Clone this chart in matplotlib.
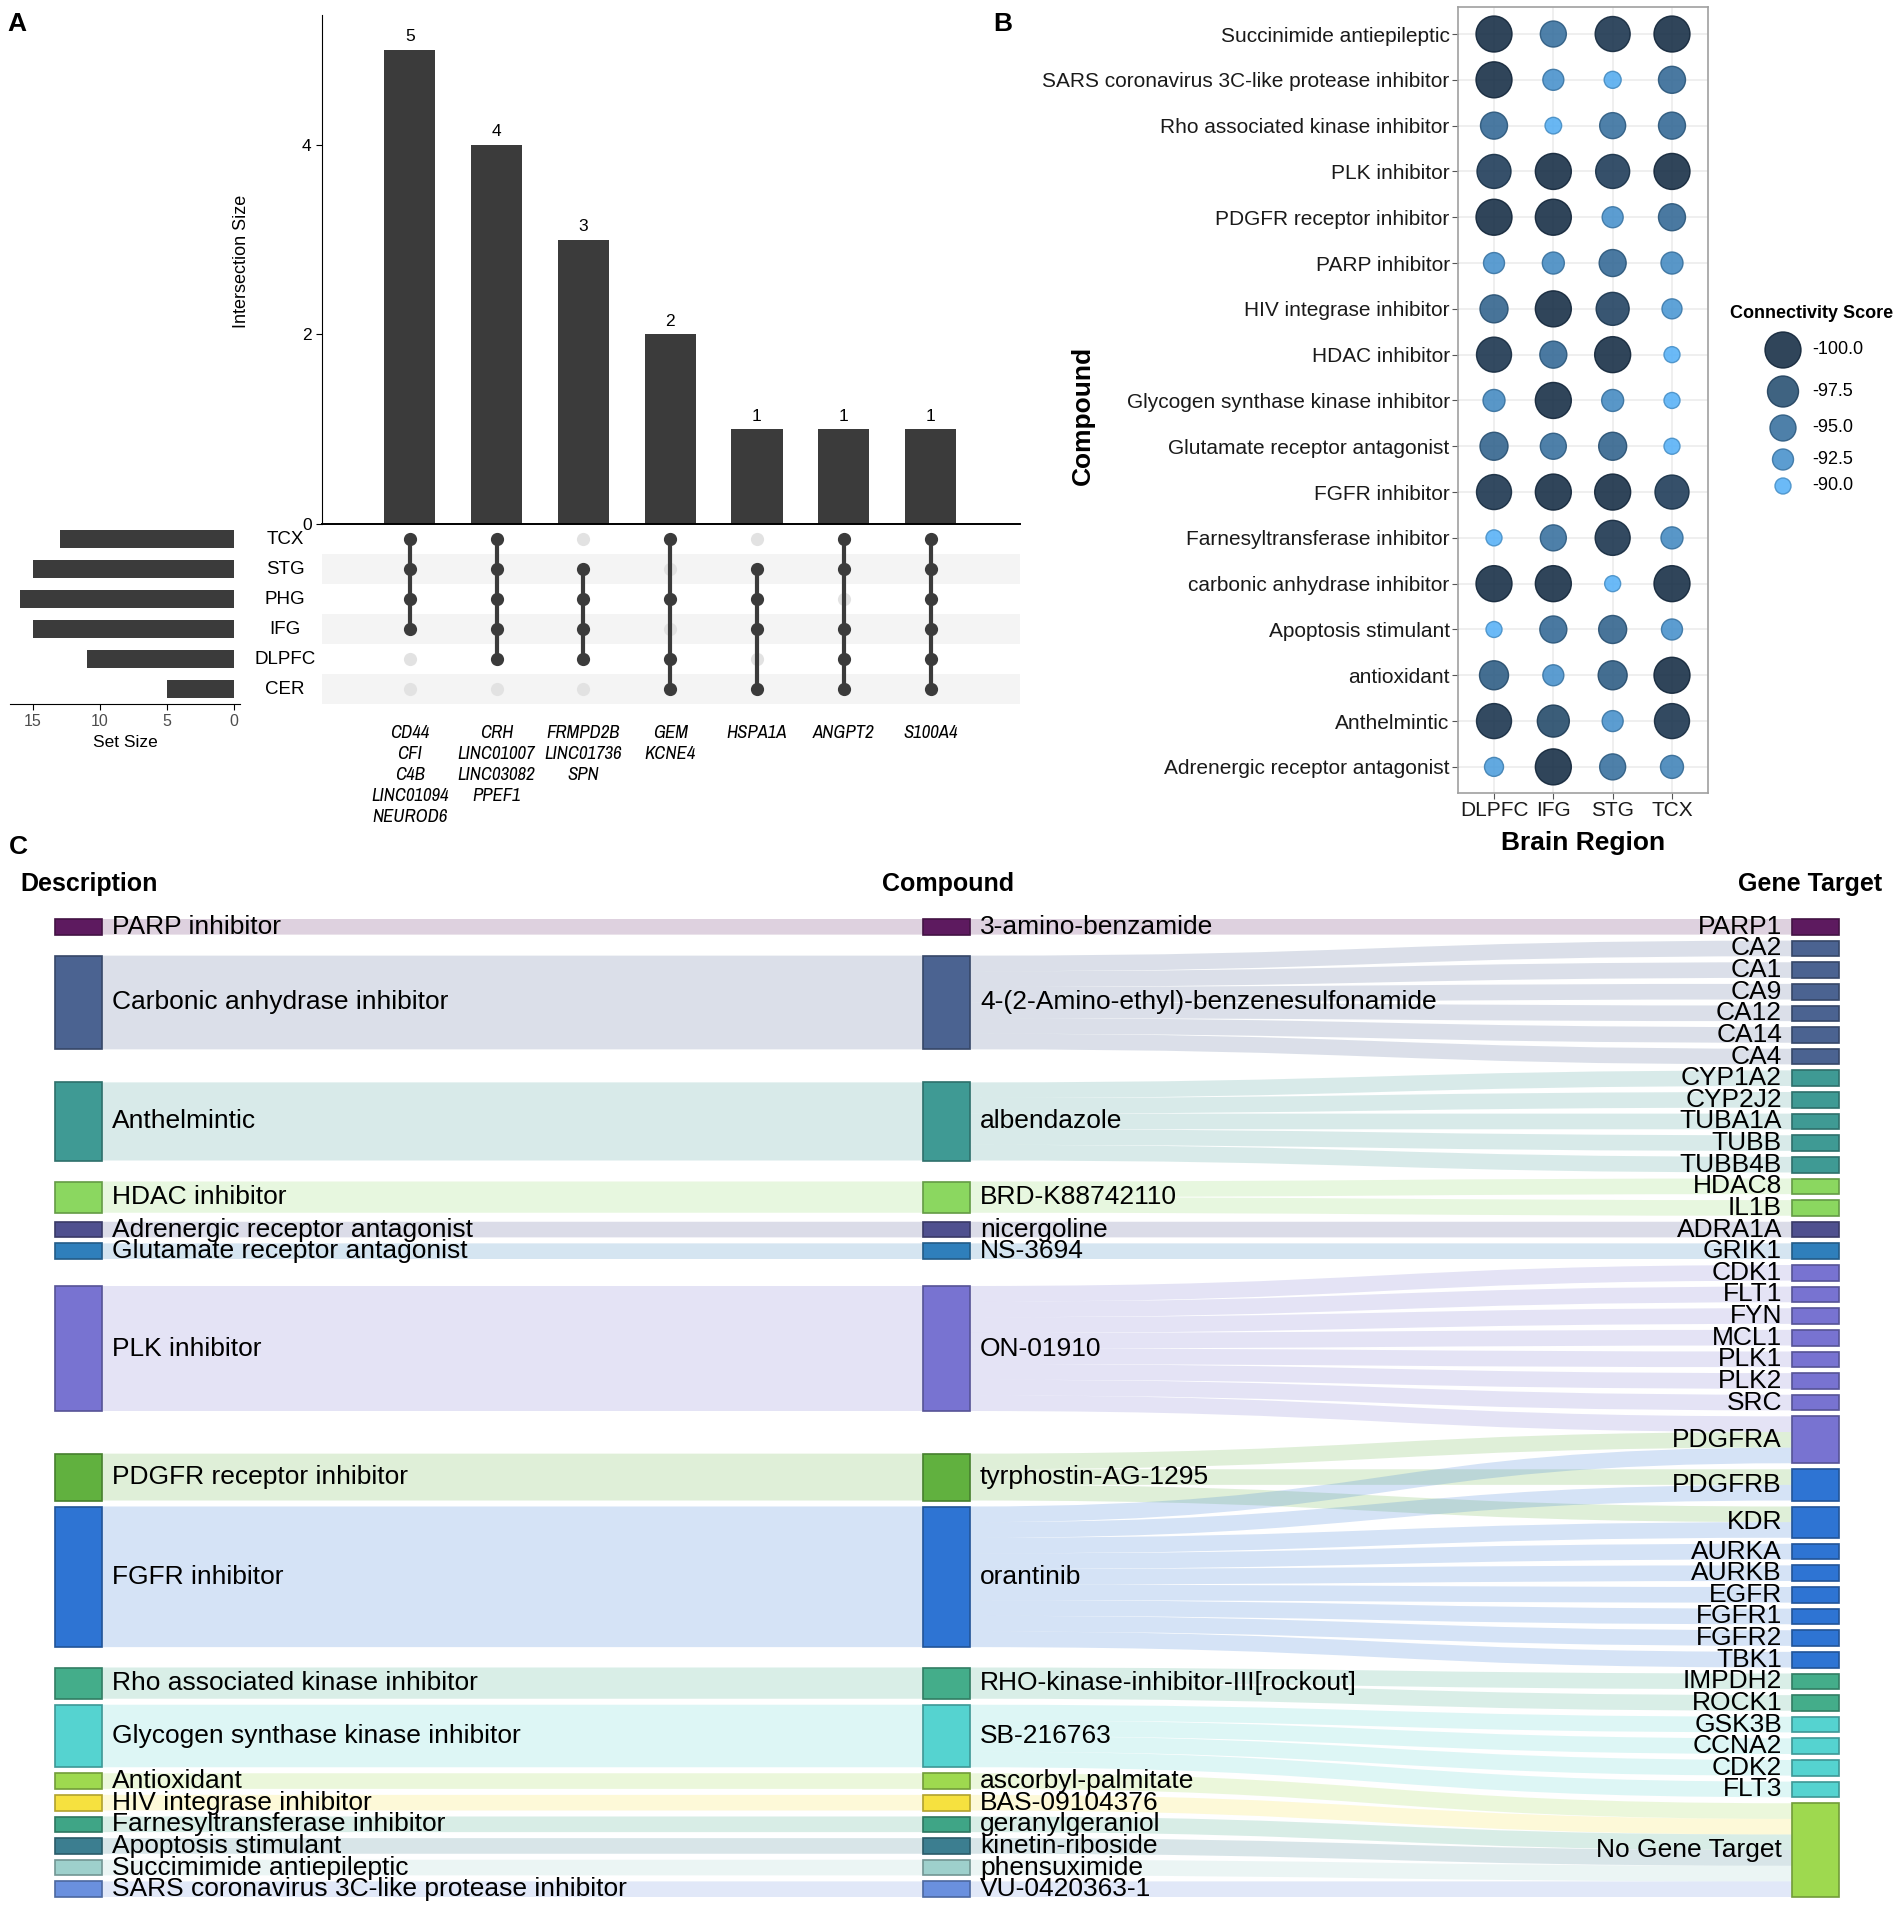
import numpy as np
import matplotlib
matplotlib.use("Agg")
import matplotlib.pyplot as plt
import matplotlib.transforms as mtransforms
from matplotlib import font_manager
from matplotlib.path import Path
from matplotlib.patches import PathPatch, Rectangle
from matplotlib.colors import LinearSegmentedColormap, Normalize, to_rgb

plt.rcParams['font.family'] = ['Liberation Sans', 'DejaVu Sans']

# pick a condensed face for the gene lists of panel A, if one is installed
NARROW, NARROW_STRETCH, NARROW_SIZE = 'Liberation Sans', 'normal', 11.5
for f in font_manager.fontManager.ttflist:
    if 'Narrow' in f.name or 'Condensed' in f.name:
        NARROW, NARROW_STRETCH, NARROW_SIZE = f.name, 'normal', 13.5
        break
else:
    for f in font_manager.fontManager.ttflist:
        if str(f.stretch) in ('condensed', 'semi-condensed'):
            NARROW, NARROW_STRETCH, NARROW_SIZE = f.name, str(f.stretch), 13.5
            break

# ---------------- panel A : upset data
sets = ['TCX', 'STG', 'PHG', 'IFG', 'DLPFC', 'CER']
set_sizes = [13, 15, 16, 15, 11, 5]
inter_sizes = [5, 4, 3, 2, 1, 1, 1]
inter_members = [
    ['TCX', 'STG', 'PHG', 'IFG'],
    ['TCX', 'STG', 'PHG', 'IFG', 'DLPFC'],
    ['STG', 'PHG', 'IFG', 'DLPFC'],
    ['TCX', 'PHG', 'DLPFC', 'CER'],
    ['STG', 'PHG', 'IFG', 'CER'],
    ['TCX', 'STG', 'IFG', 'DLPFC', 'CER'],
    ['TCX', 'STG', 'PHG', 'IFG', 'DLPFC', 'CER'],
]
inter_genes = [
    ['CD44', 'CFI', 'C4B', 'LINC01094', 'NEUROD6'],
    ['CRH', 'LINC01007', 'LINC03082', 'PPEF1'],
    ['FRMPD2B', 'LINC01736', 'SPN'],
    ['GEM', 'KCNE4'],
    ['HSPA1A'],
    ['ANGPT2'],
    ['S100A4'],
]

# ---------------- panel B : connectivity scores
regions = ['DLPFC', 'IFG', 'STG', 'TCX']
moa = ['Succinimide antiepileptic', 'SARS coronavirus 3C-like protease inhibitor',
       'Rho associated kinase inhibitor', 'PLK inhibitor', 'PDGFR receptor inhibitor',
       'PARP inhibitor', 'HIV integrase inhibitor', 'HDAC inhibitor',
       'Glycogen synthase kinase inhibitor', 'Glutamate receptor antagonist',
       'FGFR inhibitor', 'Farnesyltransferase inhibitor', 'carbonic anhydrase inhibitor',
       'Apoptosis stimulant', 'antioxidant', 'Anthelmintic', 'Adrenergic receptor antagonist']
score_dlpfc = [-100, -100, -95.5, -99, -100, -92.5, -96, -99.5, -93, -96, -99.5, -90, -100, -90, -96.5, -99.5, -91.5]
score_ifg = [-95, -92.5, -90.3, -100, -100, -93, -100, -95.5, -100, -95, -100, -95, -100, -95.5, -92.5, -98, -100]
score_stg = [-99.5, -90.5, -95, -99, -92.5, -95.5, -98.5, -100, -93, -96, -100, -99.5, -90, -96, -96.5, -92.5, -95]
score_tcx = [-100, -95.5, -95.5, -100, -95.5, -93, -92, -90, -90, -90, -99, -93, -100, -92.5, -100, -99.5, -93.5]
legend_breaks = [-100.0, -97.5, -95.0, -92.5, -90.0]

# ---------------- panel C : sankey
descriptions = ['PARP inhibitor', 'Carbonic anhydrase inhibitor', 'Anthelmintic', 'HDAC inhibitor',
                'Adrenergic receptor antagonist', 'Glutamate receptor antagonist', 'PLK inhibitor',
                'PDGFR receptor inhibitor', 'FGFR inhibitor', 'Rho associated kinase inhibitor',
                'Glycogen synthase kinase inhibitor', 'Antioxidant', 'HIV integrase inhibitor',
                'Farnesyltransferase inhibitor', 'Apoptosis stimulant', 'Succimimide antiepileptic',
                'SARS coronavirus 3C-like protease inhibitor']
compounds = ['3-amino-benzamide', '4-(2-Amino-ethyl)-benzenesulfonamide', 'albendazole',
             'BRD-K88742110', 'nicergoline', 'NS-3694', 'ON-01910', 'tyrphostin-AG-1295',
             'orantinib', 'RHO-kinase-inhibitor-III[rockout]', 'SB-216763', 'ascorbyl-palmitate',
             'BAS-09104376', 'geranylgeraniol', 'kinetin-riboside', 'phensuximide', 'VU-0420363-1']
compound_targets = [
    ['PARP1'],
    ['CA2', 'CA1', 'CA9', 'CA12', 'CA14', 'CA4'],
    ['CYP1A2', 'CYP2J2', 'TUBA1A', 'TUBB', 'TUBB4B'],
    ['HDAC8', 'IL1B'],
    ['ADRA1A'],
    ['GRIK1'],
    ['CDK1', 'FLT1', 'FYN', 'MCL1', 'PLK1', 'PLK2', 'SRC', 'PDGFRA'],
    ['PDGFRA', 'PDGFRB', 'KDR'],
    ['PDGFRA', 'PDGFRB', 'KDR', 'AURKA', 'AURKB', 'EGFR', 'FGFR1', 'FGFR2', 'TBK1'],
    ['IMPDH2', 'ROCK1'],
    ['GSK3B', 'CCNA2', 'CDK2', 'FLT3'],
    ['No Gene Target'],
    ['No Gene Target'],
    ['No Gene Target'],
    ['No Gene Target'],
    ['No Gene Target'],
    ['No Gene Target'],
]
class_colors = ['#5d1a5f', '#4b6391', '#3f9a94', '#8bd760', '#4f508f', '#2f7fbb', '#7873d1',
                '#61b13f', '#2e74d3', '#44ad8a', '#55d3d0', '#9ed94f', '#f6e13f', '#3fa586',
                '#3c7e90', '#9ed0cc', '#6a90de']
# genes whose node group is not the first compound that hits them
gene_group_override = {'PDGFRB': 'orantinib', 'KDR': 'orantinib'}

W, H = 1902, 1913
fig = plt.figure(figsize=(W / 100, H / 100), dpi=100)


def px_axes(x0, y0, x1, y1):
    return fig.add_axes([x0 / W, 1 - y1 / H, (x1 - x0) / W, (y1 - y0) / H])


def darker(c, f=0.72):
    r, g, b = to_rgb(c)
    return (r * f, g * f, b * f)


# ======================= A
DARK = '#3b3b3b'
XL = (-1.01, 7.03)
ax_bar = px_axes(322, 15, 1020, 524)
xs = np.arange(len(inter_sizes))
ax_bar.bar(xs, inter_sizes, width=0.59, color=DARK)
for x, v in zip(xs, inter_sizes):
    ax_bar.text(x, v + 0.06, str(v), ha='center', va='bottom', fontsize=12.5)
ax_bar.set_xlim(*XL)
ax_bar.set_ylim(0, 5.37)
ax_bar.set_yticks([0, 2, 4])
ax_bar.set_xticks([])
for s in ['top', 'right']:
    ax_bar.spines[s].set_visible(False)
ax_bar.spines['bottom'].set_linewidth(1.4)
ax_bar.spines['left'].set_linewidth(0.8)
ax_bar.tick_params(axis='y', labelsize=12.5, length=4, width=0.8)
ax_bar.set_ylabel('Intersection Size', fontsize=13)
ax_bar.yaxis.set_label_coords(-0.103, 0.515)

ax_m = px_axes(322, 524, 1020, 704)
ax_m.set_xlim(*XL)
ax_m.set_ylim(5.5, -0.5)
ax_m.axis('off')
for i in range(len(sets)):
    if i % 2 == 1:
        ax_m.axhspan(i - 0.5, i + 0.5, color='#f4f4f4', lw=0, zorder=0)
for j, members in enumerate(inter_members):
    rows = [sets.index(m) for m in members]
    ax_m.scatter([j] * len(sets), range(len(sets)), s=90, color='#e2e2e2', lw=0, zorder=2)
    ax_m.plot([j, j], [min(rows), max(rows)], color=DARK, lw=3, zorder=3)
    ax_m.scatter([j] * len(rows), rows, s=90, color=DARK, lw=0, zorder=4)
    ax_m.text(j, 6.2, '\n'.join(inter_genes[j]), ha='center', va='top', fontsize=NARROW_SIZE,
              style='italic', family=NARROW, stretch=NARROW_STRETCH,
              linespacing=1.38 if NARROW_SIZE > 12 else 1.45, clip_on=False)
tr = mtransforms.blended_transform_factory(fig.transFigure, ax_m.transData)
for i, name in enumerate(sets):
    ax_m.text(285 / W, i, name, transform=tr, ha='center', va='center', fontsize=13.5)

ax_s = px_axes(10, 524, 240, 704)
ax_s.barh(range(len(sets)), set_sizes, height=0.57, color=DARK)
ax_s.set_xlim(16.72, -0.45)
ax_s.set_ylim(5.5, -0.5)
for s in ['top', 'right', 'left']:
    ax_s.spines[s].set_visible(False)
ax_s.set_yticks([])
ax_s.set_xticks([15, 10, 5, 0])
ax_s.tick_params(axis='x', labelsize=11.5, labelcolor='#4d4d4d', length=4)
ax_s.set_xlabel('Set Size', fontsize=12.5, labelpad=4)

fig.text(17 / W, 1 - 24 / H, 'A', fontsize=19, fontweight='bold', ha='center', va='center')

# ======================= B
cmap = LinearSegmentedColormap.from_list('cs', ['#132B43', '#56B1F7'])
norm = Normalize(-100, -90)


def dot_size(v):
    d = 16 + (-90 - np.asarray(v, dtype=float)) / 10 * 20
    return (d * 0.72) ** 2


ax_b = px_axes(1458, 7, 1708, 793)
score_cols = [score_dlpfc, score_ifg, score_stg, score_tcx]
for k, col in enumerate(score_cols):
    yy = np.arange(1, len(moa) + 1)
    cols = cmap(norm(col))
    ax_b.scatter([k + 1] * len(moa), yy, s=dot_size(col), c=cols, alpha=0.88,
                 edgecolors=[darker(c[:3], 0.8) for c in cols], linewidths=1, zorder=3)
ax_b.set_xlim(0.393, 4.607)
ax_b.set_ylim(17.57, 0.41)
ax_b.set_xticks(range(1, 5))
ax_b.set_xticklabels(regions)
ax_b.set_yticks(range(1, len(moa) + 1))
ax_b.set_yticklabels(moa)
ax_b.grid(color='#ebebeb', lw=1.1)
ax_b.set_axisbelow(True)
for s in ax_b.spines.values():
    s.set_color('#a0a0a0')
    s.set_linewidth(1.2)
ax_b.tick_params(labelsize=15, length=4, color='#555555', labelcolor='#1a1a1a', pad=2)
fig.text(1083 / W, 1 - 415 / H, 'Compound', rotation=90, fontsize=19, fontweight='bold',
         ha='center', va='center')
fig.text(1583 / W, 1 - 843 / H, 'Brain Region', fontsize=19, fontweight='bold',
         ha='center', va='center')
fig.text(1003 / W, 1 - 24 / H, 'B', fontsize=19, fontweight='bold', ha='center', va='center')

# legend
fig.text(1730 / W, 1 - 313 / H, 'Connectivity Score', fontsize=13, fontweight='bold',
         ha='left', va='center')
ax_leg = px_axes(1740, 320, 1900, 520)
ax_leg.set_xlim(1740, 1900)
ax_leg.set_ylim(520, 320)
ax_leg.axis('off')
diam = 16 + (-90 - np.array(legend_breaks)) / 10 * 20
ly = [350.0]
for a, b in zip(diam[:-1], diam[1:]):
    ly.append(ly[-1] + (a + b) / 2 + 8)
lcols = cmap(norm(legend_breaks))
ax_leg.scatter([1783] * len(legend_breaks), ly, s=dot_size(legend_breaks), c=lcols, alpha=0.88,
               edgecolors=[darker(c[:3], 0.8) for c in lcols], linewidths=1)
for v, y in zip(legend_breaks, ly):
    ax_leg.text(1812, y, f'{v:.1f}', fontsize=13, va='center', ha='left')

# ======================= C
ax_c = px_axes(0, 840, W, H)
ax_c.set_xlim(0, W)
ax_c.set_ylim(H, 840)
ax_c.axis('off')

genes = []
for t in compound_targets:
    for g in t:
        if g not in genes:
            genes.append(g)
gene_val = [sum(t.count(g) for t in compound_targets) for g in genes]
gene_color = {}
for t, c in zip(compound_targets, class_colors):
    for g in t:
        gene_color.setdefault(g, c)
for g, comp in gene_group_override.items():
    gene_color[g] = class_colors[compounds.index(comp)]

TOP, BOT, PAD = 919, 1897, 6
ky = (BOT - TOP - PAD * (len(genes) - 1)) / sum(gene_val)
gene_y = {}
y = TOP
for g, v in zip(genes, gene_val):
    gene_y[g] = y
    y += v * ky + PAD

# slots on gene nodes: incoming links ordered by compound order
gene_slot = {g: gene_y[g] for g in genes}
link_tgt = []
for ci, t in enumerate(compound_targets):
    row = {}
    for g in t:
        row[g] = gene_slot[g]
        gene_slot[g] += ky
    link_tgt.append(row)

# compound position = barycentre of its links, then collision resolution
comp_h = [len(t) * ky for t in compound_targets]
comp_y = [np.mean([link_tgt[ci][g] + ky / 2 for g in t]) - comp_h[ci] / 2
          for ci, t in enumerate(compound_targets)]
yy = TOP
for i in range(len(comp_y)):
    if comp_y[i] < yy:
        comp_y[i] = yy
    yy = comp_y[i] + comp_h[i] + PAD
if yy - PAD > BOT:
    comp_y[-1] = BOT - comp_h[-1]
    for i in range(len(comp_y) - 2, -1, -1):
        if comp_y[i] + comp_h[i] + PAD > comp_y[i + 1]:
            comp_y[i] = comp_y[i + 1] - PAD - comp_h[i]

NW = 47
XD, XC, XG = 55, 923, 1792


def band(x0, y0, x1, y1, h, color):
    xm = (x0 + x1) / 2
    verts = [(x0, y0), (xm, y0), (xm, y1), (x1, y1), (x1, y1 + h),
             (xm, y1 + h), (xm, y0 + h), (x0, y0 + h), (x0, y0)]
    codes = [Path.MOVETO, Path.CURVE4, Path.CURVE4, Path.CURVE4, Path.LINETO,
             Path.CURVE4, Path.CURVE4, Path.CURVE4, Path.CLOSEPOLY]
    ax_c.add_patch(PathPatch(Path(verts, codes), facecolor=color, alpha=0.2, lw=0, zorder=1))


for ci, t in enumerate(compound_targets):
    c = class_colors[ci]
    band(XD + NW, comp_y[ci], XC, comp_y[ci], comp_h[ci], c)
    order = sorted(t, key=lambda g: genes.index(g))
    sy = comp_y[ci]
    for g in order:
        band(XC + NW, sy, XG, link_tgt[ci][g], ky, c)
        sy += ky

for ci in range(len(compounds)):
    c = class_colors[ci]
    for x in (XD, XC):
        ax_c.add_patch(Rectangle((x, comp_y[ci]), NW, comp_h[ci], facecolor=c,
                                 edgecolor=darker(c), lw=1.2, zorder=3))
    yc = comp_y[ci] + comp_h[ci] / 2
    ax_c.text(XD + NW + 10, yc, descriptions[ci], fontsize=19, va='center', ha='left', zorder=4)
    ax_c.text(XC + NW + 10, yc, compounds[ci], fontsize=19, va='center', ha='left', zorder=4)

for g, v in zip(genes, gene_val):
    c = gene_color[g]
    ax_c.add_patch(Rectangle((XG, gene_y[g]), NW, v * ky, facecolor=c,
                             edgecolor=darker(c), lw=1.2, zorder=3))
    ax_c.text(XG - 10, gene_y[g] + v * ky / 2, g, fontsize=19, va='center', ha='right', zorder=4)

ax_c.text(20, 884, 'Description', fontsize=18, fontweight='bold', ha='left', va='center')
ax_c.text(948, 884, 'Compound', fontsize=18, fontweight='bold', ha='center', va='center')
ax_c.text(1882, 884, 'Gene Target', fontsize=18, fontweight='bold', ha='right', va='center')
ax_c.text(18, 847, 'C', fontsize=19, fontweight='bold', ha='center', va='center')

fig.savefig('out.png', dpi=100)
